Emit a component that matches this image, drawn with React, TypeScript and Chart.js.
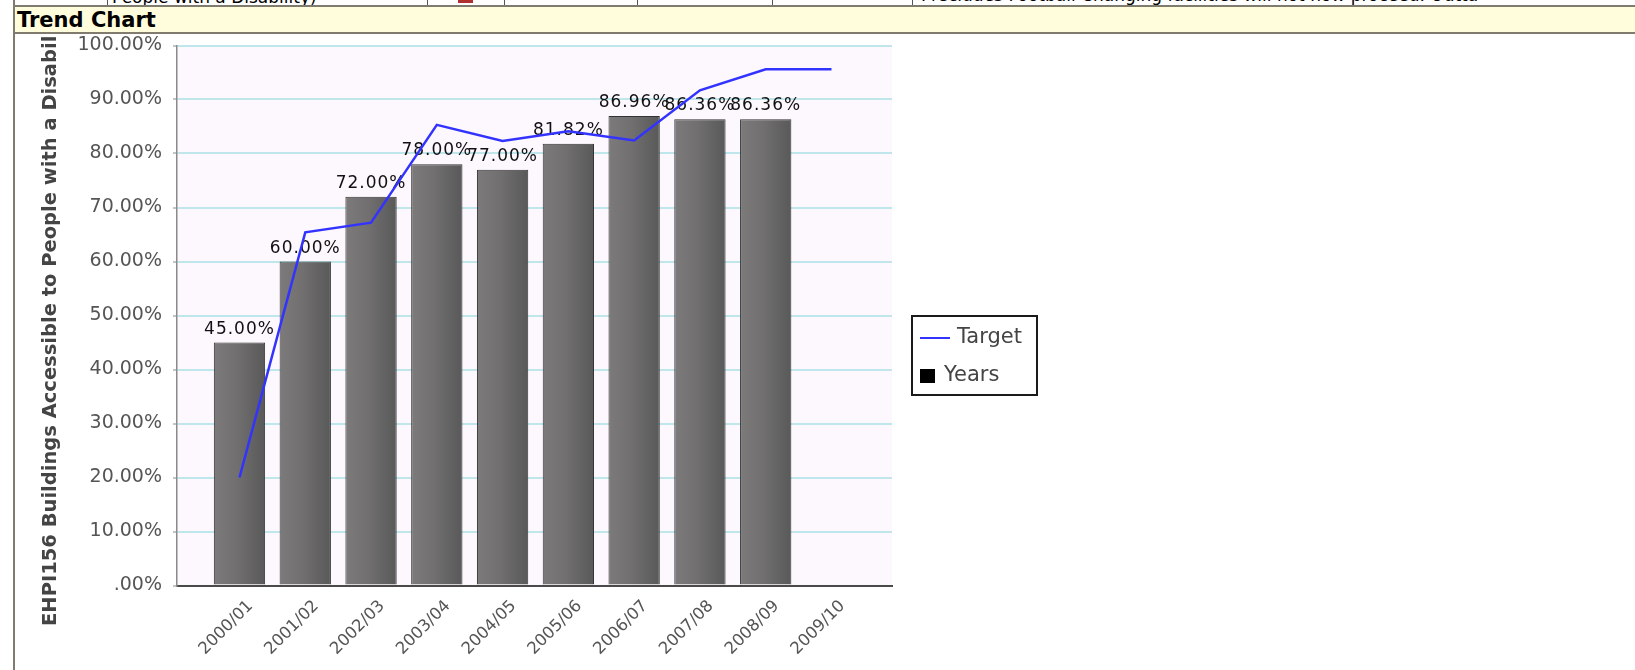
import React, { useEffect, useRef } from 'react';
import { Chart, registerables } from 'chart.js';

Chart.register(...registerables);

const categories = ['2000/01', '2001/02', '2002/03', '2003/04', '2004/05', '2005/06', '2006/07', '2007/08', '2008/09', '2009/10'];
const yearsValues: (number | null)[] = [45, 60, 72, 78, 77, 81.82, 86.96, 86.36, 86.36, null];
const targetValues = [20, 65.4, 67.2, 85.3, 82.3, 84.1, 82.4, 91.7, 95.6, 95.6];
const yTickValues = [0, 10, 20, 30, 40, 50, 60, 70, 80, 90, 100];
const yTitle = 'EHPI156 Buildings Accessible to People with a Disability';
const legendLabels = ['Target', 'Years'];
const headerTitle = 'Trend Chart';
const topRowLeftText = 'People with a Disability)';
const topRowRightText = 'Precludes Football Changing facilities will not now proceed. Outta';

const FONT = '"DejaVu Sans", sans-serif';
const LINE_COLOR = '#3333ff';

const plotBgPlugin = {
  id: 'plotBg',
  beforeDraw(chart: any) {
    const { ctx, chartArea: a } = chart;
    ctx.save();
    ctx.fillStyle = '#fdf8fd';
    ctx.fillRect(a.left, a.top, a.right - a.left, a.bottom - a.top);
    ctx.restore();
  },
};

const yTitlePlugin = {
  id: 'yTitle',
  afterDraw(chart: any) {
    const { ctx, chartArea: a } = chart;
    ctx.save();
    ctx.translate(a.left - 126, a.bottom + 40.5);
    ctx.rotate(-Math.PI / 2);
    ctx.font = `bold 19.5px ${FONT}`;
    ctx.fillStyle = '#444';
    ctx.textAlign = 'left';
    ctx.textBaseline = 'middle';
    ctx.fillText(yTitle, 0, 0);
    ctx.restore();
  },
};

const dataLabelPlugin = {
  id: 'dataLabels',
  afterDatasetDraw(chart: any, args: any) {
    if (args.index !== 0) return;
    const { ctx } = chart;
    const meta = chart.getDatasetMeta(0);
    ctx.save();
    ctx.font = `17px ${FONT}`;
    (ctx as any).letterSpacing = '1px';
    ctx.fillStyle = '#111';
    ctx.textAlign = 'center';
    ctx.textBaseline = 'alphabetic';
    meta.data.forEach((bar: any, i: number) => {
      const v = yearsValues[i];
      if (v == null) return;
      ctx.fillText(v.toFixed(2) + '%', bar.x, bar.y - 9);
    });
    ctx.restore();
  },
};

const legendPlugin = {
  id: 'boxLegend',
  afterDraw(chart: any) {
    const { ctx, chartArea: a } = chart;
    const w = 125;
    const h = 79;
    const left = a.right + 20;
    const top = (chart.height - h) / 2 + 3;
    ctx.save();
    ctx.fillStyle = '#fff';
    ctx.fillRect(left, top, w, h);
    ctx.strokeStyle = '#1a1a1a';
    ctx.lineWidth = 2;
    ctx.strokeRect(left, top, w, h);
    const y1 = top + 22;
    const y2 = top + 60;
    ctx.strokeStyle = LINE_COLOR;
    ctx.lineWidth = 2;
    ctx.beginPath();
    ctx.moveTo(left + 8, y1);
    ctx.lineTo(left + 38, y1);
    ctx.stroke();
    ctx.font = `21px ${FONT}`;
    ctx.fillStyle = '#444';
    ctx.textAlign = 'left';
    ctx.textBaseline = 'middle';
    ctx.fillText(legendLabels[0], left + 45, y1);
    ctx.fillStyle = '#000';
    ctx.fillRect(left + 8, y2 - 7, 15, 14);
    ctx.fillStyle = '#444';
    ctx.fillText(legendLabels[1], left + 32, y2);
    ctx.restore();
  },
};

export default function App() {
  const ref = useRef<HTMLCanvasElement>(null);

  useEffect(() => {
    document.body.style.margin = '0';
    const canvas = ref.current!;
    const barFill = (c: any) => {
      const chart = c.chart;
      const xs = chart.scales && chart.scales.x;
      if (!xs || !chart.chartArea) return '#6b6b6b';
      const cx = xs.getPixelForValue(c.dataIndex);
      const half = (xs.getPixelForValue(1) - xs.getPixelForValue(0)) * 0.39;
      const g = chart.ctx.createLinearGradient(cx - half, 0, cx + half, 0);
      g.addColorStop(0, '#7c7a7a');
      g.addColorStop(0.45, '#716f6f');
      g.addColorStop(1, '#595959');
      return g;
    };
    const chart = new Chart(canvas, {
      data: {
        datasets: [
          {
            type: 'bar',
            label: legendLabels[1],
            data: categories.map((_, i) => ({ x: i, y: yearsValues[i] })) as any,
            backgroundColor: barFill as any,
            borderColor: '#333',
            borderWidth: 1,
            categoryPercentage: 1,
            barPercentage: 0.78,
            order: 2,
          },
          {
            type: 'line',
            label: legendLabels[0],
            data: categories.map((_, i) => ({ x: i, y: targetValues[i] })) as any,
            borderColor: LINE_COLOR,
            borderWidth: 2.5,
            pointRadius: 0,
            tension: 0,
            fill: false,
            order: 1,
          },
        ],
      },
      options: {
        responsive: false,
        animation: false,
        devicePixelRatio: 1,
        layout: { padding: { top: 10.5, right: 743, left: 0, bottom: 0 } },
        plugins: {
          legend: { display: false },
          title: { display: false },
          tooltip: { enabled: false },
        },
        scales: {
          x: {
            type: 'linear',
            offset: false,
            bounds: 'data',
            min: -0.95,
            max: 9.92,
            afterBuildTicks: (s: any) => {
              s.ticks = categories.map((_, i) => ({ value: i }));
            },
            afterFit: (s: any) => {
              s.height = 84.5;
              s.paddingLeft = 0;
              s.paddingRight = 0;
            },
            ticks: {
              autoSkip: false,
              maxRotation: 45,
              minRotation: 45,
              padding: 3,
              labelOffset: 11,
              color: '#555',
              font: { family: FONT, size: 16.5 },
              callback: (v: any) => categories[v] ?? '',
            },
            grid: { display: false },
            border: { display: true, color: '#4a4a4a', width: 2 },
          },
          y: {
            type: 'linear',
            min: 0,
            max: 100,
            afterBuildTicks: (s: any) => {
              s.ticks = yTickValues.map((v) => ({ value: v }));
            },
            afterFit: (s: any) => {
              s.width = 161;
              s.paddingTop = 0;
              s.paddingBottom = 0;
            },
            ticks: {
              padding: 11,
              color: '#555',
              font: { family: FONT, size: 19, lineHeight: 1 },
              callback: (v: any) => (v === 0 ? '.00%' : Number(v).toFixed(2) + '%'),
            },
            grid: {
              color: '#bfe6ea',
              lineWidth: 2,
              tickColor: '#888',
              tickLength: 4,
              tickWidth: 1,
              drawTicks: true,
            },
            border: { display: true, color: '#8a8a8a', width: 1.5 },
          },
        },
      } as any,
      plugins: [plotBgPlugin, dataLabelPlugin, yTitlePlugin, legendPlugin],
    } as any);
    return () => chart.destroy();
  }, []);

  const cellLines = [107, 427, 504, 637, 772, 912];

  return (
    <div
      style={{
        position: 'fixed',
        left: 0,
        top: 0,
        width: 1635,
        height: 670,
        background: '#fff',
        overflow: 'hidden',
        fontFamily: FONT,
      }}
    >
      <div style={{ position: 'absolute', left: 0, top: 0, width: 1635, height: 5, overflow: 'hidden' }}>
        {cellLines.map((x) => (
          <div key={x} style={{ position: 'absolute', left: x, top: 0, width: 1, height: 5, background: '#555' }} />
        ))}
        <div style={{ position: 'absolute', left: 458, top: 0, width: 15, height: 3, background: '#b03030' }} />
        <span style={{ position: 'absolute', left: 112, top: -13, fontSize: 17, lineHeight: '20px', whiteSpace: 'nowrap', color: '#000' }}>
          {topRowLeftText}
        </span>
        <span style={{ position: 'absolute', left: 921, top: -15, fontSize: 17, lineHeight: '20px', whiteSpace: 'nowrap', color: '#000' }}>
          {topRowRightText}
        </span>
      </div>
      <div
        style={{
          position: 'absolute',
          left: 14,
          top: 5,
          width: 1621,
          height: 29,
          boxSizing: 'border-box',
          background: '#fffddc',
          borderTop: '2px solid #7f7b6e',
          borderBottom: '2px solid #7f7b6e',
        }}
      >
        <span
          style={{
            position: 'absolute',
            left: 3,
            top: 1,
            fontWeight: 'bold',
            fontSize: 21,
            lineHeight: '25px',
            color: '#000',
            whiteSpace: 'nowrap',
          }}
        >
          {headerTitle}
        </span>
      </div>
      <div style={{ position: 'absolute', left: 13, top: 0, width: 2, height: 670, background: '#7f7b6e' }} />
      <canvas
        ref={ref}
        width={1619}
        height={635}
        style={{ position: 'absolute', left: 16, top: 35, width: 1619, height: 635 }}
      />
    </div>
  );
}
